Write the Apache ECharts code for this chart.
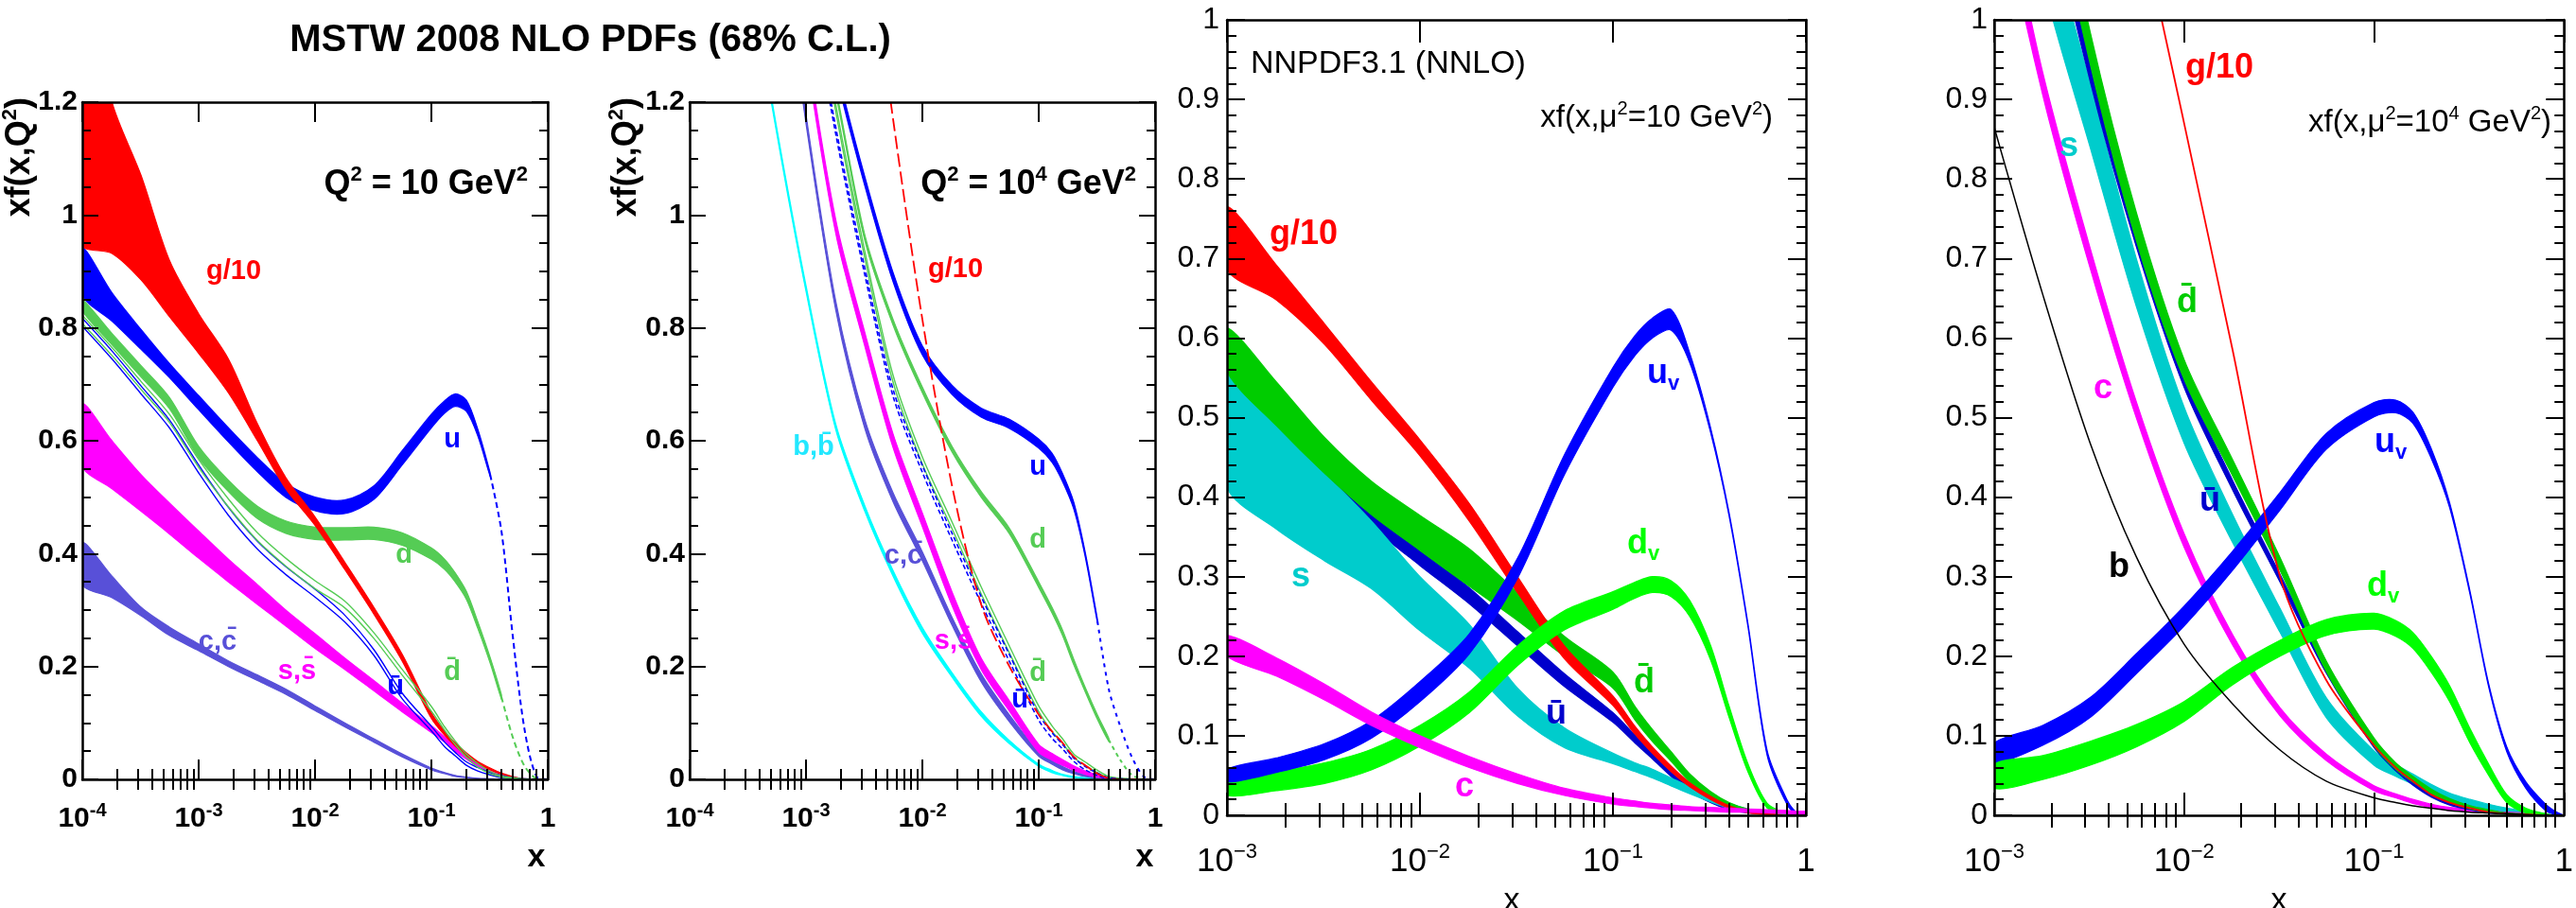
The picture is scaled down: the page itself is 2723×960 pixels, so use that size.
<!DOCTYPE html>
<html><head><meta charset="utf-8">
<script src="https://cdn.jsdelivr.net/npm/echarts@6/dist/echarts.min.js"></script>
<style>html,body{margin:0;padding:0;background:#fff}#c{width:2723px;height:960px}</style>
</head><body><div id="c"></div>
<script>
// ---------------- x sampling grids ----------------
const X_MSTW = [0.0001, 0.00018, 0.00032, 0.00056, 0.001, 0.0018, 0.0032, 0.0056, 0.01, 0.018, 0.032, 0.056, 0.1, 0.13, 0.16, 0.2, 0.25, 0.32, 0.4, 0.5, 0.63, 0.8, 1];
const X_MSTW_G2 = [0.001, 0.0018, 0.0032, 0.0056, 0.01, 0.018, 0.032, 0.056, 0.1, 0.13, 0.16, 0.2, 0.25, 0.32, 0.4, 0.5, 0.63, 0.8, 1];
const X_U_TAIL = [0.32, 0.4, 0.5, 0.63, 0.8, 1];
const X_D_TAIL = [0.4, 0.5, 0.63, 0.8, 1];
const X_NNPDF = [0.001, 0.0018, 0.0032, 0.0056, 0.01, 0.018, 0.032, 0.056, 0.1, 0.13, 0.16, 0.2, 0.25, 0.32, 0.4, 0.5, 0.63, 0.8, 0.9, 1];
const X_TICKS_MSTW = [0.0001, 0.001, 0.01, 0.1, 1];
const X_TICKS_NNPDF = [0.001, 0.01, 0.1, 1];

// ---------------- Panel 1: MSTW 2008 NLO, Q^2 = 10 GeV^2 ----------------
const P1_G_LO = [0.948, 0.932, 0.885, 0.82, 0.755, 0.685, 0.6, 0.515, 0.45, 0.372, 0.293, 0.21, 0.108, 0.078, 0.059, 0.042, 0.028, 0.017, 0.009, 0.004, 0, 0, 0];
const P1_G_HI = [1.45, 1.2, 1.07, 0.92, 0.825, 0.745, 0.63, 0.535, 0.465, 0.385, 0.305, 0.222, 0.118, 0.085, 0.065, 0.047, 0.032, 0.02, 0.011, 0.005, 0.001, 0, 0];
const P1_U_LO = [0.858, 0.812, 0.762, 0.712, 0.655, 0.598, 0.545, 0.5, 0.476, 0.471, 0.496, 0.557, 0.623, 0.649, 0.661, 0.652, 0.609, 0.537];
const P1_U_HI = [0.942, 0.862, 0.797, 0.737, 0.68, 0.623, 0.57, 0.525, 0.5, 0.495, 0.52, 0.582, 0.647, 0.671, 0.683, 0.672, 0.621, 0.543];
const P1_U_TAIL = [0.54, 0.44, 0.255, 0.09, 0.005, 0];
const P1_D_LO = [0.83, 0.77, 0.713, 0.657, 0.57, 0.51, 0.462, 0.436, 0.425, 0.424, 0.425, 0.415, 0.39, 0.372, 0.35, 0.319, 0.268, 0.206, 0.142];
const P1_D_HI = [0.85, 0.79, 0.733, 0.677, 0.59, 0.53, 0.484, 0.458, 0.447, 0.446, 0.447, 0.437, 0.41, 0.39, 0.366, 0.333, 0.28, 0.216, 0.15];
const P1_D_TAIL = [0.146, 0.075, 0.024, 0.001, 0];
const P1_UBAR_LO = [0.803, 0.745, 0.683, 0.623, 0.543, 0.468, 0.408, 0.363, 0.323, 0.279, 0.22, 0.143, 0.086, 0.058, 0.042, 0.025, 0.015, 0.008, 0.003, 0.001, 0, 0, 0];
const P1_UBAR_HI = [0.817, 0.759, 0.697, 0.637, 0.557, 0.482, 0.422, 0.377, 0.337, 0.291, 0.23, 0.153, 0.094, 0.066, 0.048, 0.031, 0.021, 0.012, 0.007, 0.003, 0.001, 0, 0];
const P1_DBAR_LO = [0.808, 0.751, 0.691, 0.633, 0.553, 0.483, 0.423, 0.378, 0.338, 0.304, 0.25, 0.185, 0.121, 0.087, 0.062, 0.039, 0.022, 0.01, 0.004, 0.001, 0, 0, 0];
const P1_DBAR_HI = [0.822, 0.765, 0.705, 0.647, 0.567, 0.497, 0.437, 0.392, 0.352, 0.316, 0.26, 0.195, 0.129, 0.093, 0.068, 0.045, 0.028, 0.014, 0.006, 0.003, 0.001, 0, 0];
const P1_S_LO = [0.555, 0.515, 0.475, 0.435, 0.392, 0.35, 0.31, 0.272, 0.232, 0.195, 0.157, 0.12, 0.083, 0.066, 0.05, 0.036, 0.023, 0.012, 0.005, 0.002, 0, 0, 0];
const P1_S_HI = [0.665, 0.6, 0.54, 0.49, 0.44, 0.39, 0.345, 0.3, 0.258, 0.215, 0.175, 0.135, 0.095, 0.075, 0.058, 0.042, 0.028, 0.015, 0.007, 0.003, 0.001, 0, 0];
const P1_C_LO = [0.345, 0.322, 0.29, 0.255, 0.228, 0.2, 0.175, 0.151, 0.122, 0.093, 0.066, 0.04, 0.017, 0.01, 0.005, 0.003, 0.001, 0, 0, 0, 0, 0, 0];
const P1_C_HI = [0.42, 0.36, 0.305, 0.27, 0.24, 0.21, 0.185, 0.16, 0.13, 0.1, 0.072, 0.045, 0.02, 0.012, 0.007, 0.004, 0.002, 0.001, 0, 0, 0, 0, 0];

// ---------------- Panel 2: MSTW 2008 NLO, Q^2 = 10^4 GeV^2 ----------------
const P2_B_LO = [2.195, 1.795, 1.445, 1.145, 0.865, 0.62, 0.475, 0.36, 0.259, 0.181, 0.112, 0.063, 0.023, 0.012, 0.007, 0.003, 0.001, 0, 0, 0, 0, 0, 0];
const P2_B_HI = [2.205, 1.805, 1.455, 1.155, 0.875, 0.63, 0.485, 0.37, 0.269, 0.189, 0.12, 0.069, 0.027, 0.016, 0.009, 0.005, 0.003, 0.002, 0.001, 0, 0, 0, 0];
const P2_C_LO = [2.892, 2.392, 1.942, 1.542, 1.162, 0.832, 0.622, 0.492, 0.387, 0.273, 0.173, 0.102, 0.041, 0.027, 0.017, 0.01, 0.005, 0.002, 0, 0, 0, 0, 0];
const P2_C_HI = [2.908, 2.408, 1.958, 1.558, 1.178, 0.848, 0.638, 0.508, 0.403, 0.287, 0.187, 0.114, 0.049, 0.033, 0.023, 0.014, 0.009, 0.004, 0.002, 0, 0, 0, 0];
const P2_S_LO = [3.288, 2.688, 2.138, 1.688, 1.288, 0.968, 0.768, 0.588, 0.448, 0.308, 0.195, 0.121, 0.048, 0.034, 0.025, 0.016, 0.009, 0.004, 0.001, 0, 0, 0, 0];
const P2_S_HI = [3.312, 2.712, 2.162, 1.712, 1.312, 0.992, 0.792, 0.612, 0.472, 0.332, 0.215, 0.139, 0.062, 0.046, 0.035, 0.024, 0.015, 0.008, 0.003, 0.001, 0, 0, 0];
const P2_UBAR_LO = [2.994, 2.594, 2.194, 1.794, 1.444, 1.144, 0.894, 0.679, 0.544, 0.424, 0.312, 0.209, 0.105, 0.073, 0.054, 0.032, 0.017, 0.007, 0.001, 0, 0, 0, 0];
const P2_UBAR_HI = [3.006, 2.606, 2.206, 1.806, 1.456, 1.156, 0.906, 0.691, 0.556, 0.436, 0.324, 0.221, 0.115, 0.083, 0.062, 0.038, 0.023, 0.011, 0.003, 0.001, 0, 0, 0];
const P2_DBAR_LO = [3.094, 2.694, 2.294, 1.894, 1.494, 1.184, 0.924, 0.704, 0.559, 0.444, 0.329, 0.224, 0.12, 0.085, 0.064, 0.039, 0.025, 0.012, 0.003, 0, 0, 0, 0];
const P2_DBAR_HI = [3.106, 2.706, 2.306, 1.906, 1.506, 1.196, 0.936, 0.716, 0.571, 0.456, 0.341, 0.236, 0.13, 0.095, 0.072, 0.045, 0.031, 0.016, 0.005, 0.002, 0.001, 0, 0];
const P2_D_LO = [3.195, 2.695, 2.195, 1.795, 1.445, 1.215, 0.955, 0.805, 0.685, 0.58, 0.5, 0.435, 0.34, 0.295, 0.255, 0.203, 0.156, 0.106, 0.067];
const P2_D_HI = [3.205, 2.705, 2.205, 1.805, 1.455, 1.225, 0.965, 0.815, 0.695, 0.59, 0.51, 0.445, 0.35, 0.305, 0.265, 0.213, 0.164, 0.114, 0.073];
const P2_D_TAIL = [0.07, 0.035, 0.008, 0, 0];
const P2_U_LO = [3.492, 2.892, 2.342, 1.892, 1.492, 1.252, 1.052, 0.882, 0.752, 0.682, 0.642, 0.622, 0.587, 0.562, 0.528, 0.479, 0.396, 0.277];
const P2_U_HI = [3.508, 2.908, 2.358, 1.908, 1.508, 1.268, 1.068, 0.898, 0.768, 0.698, 0.658, 0.638, 0.603, 0.578, 0.542, 0.491, 0.404, 0.283];
const P2_U_TAIL = [0.28, 0.16, 0.095, 0.04, 0.005, 0];
const P2_G = [2.5, 2.0, 1.55, 1.17, 0.815, 0.52, 0.31, 0.2, 0.115, 0.085, 0.065, 0.04, 0.025, 0.01, 0.002, 0, 0, 0, 0];

// ---------------- Panel 3: NNPDF3.1 NNLO, mu^2 = 10 GeV^2 ----------------
const P3_G_LO = [0.686, 0.648, 0.592, 0.522, 0.452, 0.37, 0.28, 0.197, 0.138, 0.102, 0.078, 0.055, 0.036, 0.02, 0.009, 0.003, 0.001, 0, 0, 0];
const P3_G_HI = [0.765, 0.692, 0.618, 0.545, 0.472, 0.392, 0.3, 0.213, 0.15, 0.112, 0.086, 0.062, 0.041, 0.024, 0.012, 0.005, 0.002, 0.001, 0, 0];
const P3_DBAR_LO = [0.558, 0.49, 0.43, 0.378, 0.333, 0.288, 0.245, 0.2, 0.16, 0.12, 0.093, 0.068, 0.042, 0.022, 0.01, 0.004, 0.002, 0, 0, 0];
const P3_DBAR_HI = [0.613, 0.545, 0.475, 0.42, 0.377, 0.335, 0.28, 0.225, 0.18, 0.137, 0.108, 0.08, 0.052, 0.03, 0.016, 0.008, 0.005, 0.003, 0.001, 0];
const P3_UBAR_LO = [0.535, 0.475, 0.418, 0.363, 0.314, 0.266, 0.213, 0.162, 0.117, 0.091, 0.071, 0.049, 0.03, 0.016, 0.007, 0.003, 0.001, 0, 0, 0];
const P3_UBAR_HI = [0.555, 0.495, 0.438, 0.383, 0.334, 0.286, 0.231, 0.178, 0.129, 0.101, 0.081, 0.057, 0.036, 0.02, 0.011, 0.005, 0.002, 0, 0, 0];
const P3_S_LO = [0.413, 0.36, 0.32, 0.285, 0.232, 0.185, 0.125, 0.085, 0.065, 0.055, 0.047, 0.037, 0.027, 0.017, 0.009, 0.004, 0.001, 0, 0, 0];
const P3_S_HI = [0.558, 0.49, 0.43, 0.37, 0.3, 0.24, 0.16, 0.11, 0.078, 0.066, 0.058, 0.047, 0.036, 0.025, 0.015, 0.008, 0.004, 0.001, 0, 0];
const P3_C_LO = [0.2, 0.175, 0.145, 0.113, 0.085, 0.06, 0.04, 0.025, 0.014, 0.011, 0.009, 0.007, 0.006, 0.005, 0.004, 0.004, 0.003, 0.002, 0.002, 0.002];
const P3_C_HI = [0.226, 0.198, 0.165, 0.13, 0.1, 0.074, 0.052, 0.034, 0.022, 0.018, 0.015, 0.013, 0.011, 0.01, 0.009, 0.008, 0.007, 0.006, 0.005, 0.005];
const P3_UV_LO = [0.042, 0.054, 0.07, 0.097, 0.143, 0.203, 0.298, 0.428, 0.538, 0.578, 0.6, 0.61, 0.569, 0.482, 0.376, 0.238, 0.075, 0.013, 0.001, 0];
const P3_UV_HI = [0.058, 0.072, 0.09, 0.119, 0.168, 0.228, 0.323, 0.453, 0.563, 0.603, 0.625, 0.636, 0.581, 0.488, 0.38, 0.242, 0.081, 0.019, 0.003, 0];
const P3_DV_LO = [0.025, 0.031, 0.04, 0.057, 0.087, 0.129, 0.188, 0.233, 0.259, 0.273, 0.28, 0.275, 0.25, 0.196, 0.123, 0.055, 0.009, 0, 0, 0];
const P3_DV_HI = [0.047, 0.055, 0.066, 0.083, 0.113, 0.155, 0.213, 0.257, 0.281, 0.293, 0.3, 0.295, 0.27, 0.214, 0.137, 0.065, 0.015, 0.002, 0, 0];

// ---------------- Panel 4: NNPDF3.1 NNLO, mu^2 = 10^4 GeV^2 ----------------
const P4_G = [2.2, 1.8, 1.45, 1.15, 0.87, 0.585, 0.3, 0.17, 0.088, 0.06, 0.043, 0.026, 0.016, 0.009, 0.004, 0.002, 0.001, 0, 0, 0];
const P4_B = [0.865, 0.655, 0.468, 0.325, 0.215, 0.14, 0.082, 0.043, 0.022, 0.016, 0.012, 0.009, 0.006, 0.004, 0.003, 0.002, 0.001, 0, 0, 0];
const P4_DBAR_LO = [1.57, 1.225, 0.945, 0.723, 0.548, 0.427, 0.308, 0.181, 0.087, 0.058, 0.042, 0.027, 0.016, 0.008, 0.004, 0.001, 0, 0, 0, 0];
const P4_DBAR_HI = [1.63, 1.275, 0.985, 0.758, 0.573, 0.447, 0.324, 0.194, 0.097, 0.066, 0.049, 0.033, 0.021, 0.012, 0.007, 0.003, 0.002, 0, 0, 0];
const P4_UBAR_LO = [1.582, 1.185, 0.923, 0.715, 0.538, 0.409, 0.293, 0.179, 0.085, 0.056, 0.038, 0.023, 0.013, 0.007, 0.003, 0.002, 0, 0, 0, 0];
const P4_UBAR_HI = [1.618, 1.215, 0.947, 0.735, 0.553, 0.421, 0.303, 0.187, 0.091, 0.061, 0.042, 0.027, 0.016, 0.009, 0.005, 0.003, 0, 0, 0, 0];
const P4_S_LO = [1.36, 1.05, 0.84, 0.64, 0.468, 0.343, 0.23, 0.123, 0.063, 0.049, 0.039, 0.028, 0.019, 0.012, 0.007, 0.004, 0.002, 0, 0, 0];
const P4_S_HI = [1.48, 1.15, 0.92, 0.7, 0.513, 0.378, 0.26, 0.148, 0.081, 0.064, 0.052, 0.039, 0.028, 0.02, 0.014, 0.009, 0.005, 0.002, 0, 0];
const P4_C_LO = [1.185, 0.906, 0.688, 0.5, 0.337, 0.214, 0.125, 0.069, 0.031, 0.022, 0.015, 0.01, 0.006, 0.005, 0.003, 0.002, 0.001, 0, 0, 0];
const P4_C_HI = [1.215, 0.934, 0.713, 0.52, 0.354, 0.227, 0.135, 0.077, 0.037, 0.027, 0.02, 0.014, 0.01, 0.008, 0.006, 0.004, 0.003, 0.001, 0, 0];
const P4_UV_LO = [0.066, 0.088, 0.123, 0.178, 0.238, 0.308, 0.384, 0.46, 0.501, 0.506, 0.493, 0.449, 0.387, 0.278, 0.163, 0.08, 0.034, 0.006, 0.001, 0];
const P4_UV_HI = [0.091, 0.113, 0.148, 0.203, 0.263, 0.332, 0.406, 0.48, 0.519, 0.522, 0.507, 0.461, 0.393, 0.282, 0.167, 0.086, 0.042, 0.014, 0.005, 0];
const P4_DV_LO = [0.034, 0.045, 0.063, 0.086, 0.118, 0.164, 0.2, 0.226, 0.234, 0.225, 0.21, 0.18, 0.143, 0.091, 0.051, 0.016, 0.003, 0, 0, 0];
const P4_DV_HI = [0.064, 0.075, 0.093, 0.114, 0.143, 0.186, 0.22, 0.246, 0.254, 0.245, 0.23, 0.2, 0.163, 0.109, 0.065, 0.026, 0.009, 0.002, 0, 0];

// ---------------- styling ----------------
const FF = '"Liberation Sans", Arial, Helvetica, sans-serif';
const COL = {
  red: '#ff0000', blue: '#0000ff', mgreen: '#55cc55', magenta: '#ff00ff', slate: '#5850d8', cyan: '#00ffff',
  nCyan: '#00cccc', dGreen: '#00cc00', dBlue: '#0000cc', bGreen: '#00ff00', black: '#000000'
};

const PANELS = [
  {grid: {left: 87, top: 108, width: 492, height: 716}, xmin: 0.0001, ymax: 1.2, yint: 0.2, ysplit: 4, mstw: true, ylabMargin: 5, xlabMargin: 23},
  {grid: {left: 729, top: 108, width: 492, height: 716}, xmin: 0.0001, ymax: 1.2, yint: 0.2, ysplit: 4, mstw: true, ylabMargin: 5, xlabMargin: 23},
  {grid: {left: 1297, top: 21, width: 612, height: 841}, xmin: 0.001, ymax: 1, yint: 0.1, ysplit: 5, mstw: false, ylabMargin: 8, xlabMargin: 28},
  {grid: {left: 2108, top: 21, width: 609, height: 841}, xmin: 0.001, ymax: 1, yint: 0.1, ysplit: 5, mstw: false, ylabMargin: 7, xlabMargin: 28}
];

function minorTicks(xmin) {
  const out = [];
  for (let e = Math.round(Math.log10(xmin)); e < 0; e++) {
    for (let k = 2; k <= 9; k++) out.push(k * Math.pow(10, e));
  }
  return out;
}

const xAxes = [], yAxes = [];
PANELS.forEach((P, p) => {
  const majors = P.mstw ? X_TICKS_MSTW : X_TICKS_NNPDF;
  const minors = minorTicks(P.xmin);
  const fw = P.mstw ? 'bold' : 'normal';
  const frame = {show: true, onZero: false, lineStyle: {color: '#000', width: 2.5}};
  const tickLS = {color: '#000', width: 2};
  const majLen = P.mstw ? 21 : 24, minLen = P.mstw ? 11 : 13;
  const base = {type: 'log', logBase: 10, gridIndex: p, min: P.xmin, max: 1, splitLine: {show: false}, z: 10, silent: true};
  const xrich = P.mstw
    ? {b: {fontSize: 30, fontWeight: 'bold', fontFamily: FF, color: '#000', lineHeight: 38},
       s: {fontSize: 20, fontWeight: 'bold', fontFamily: FF, color: '#000', verticalAlign: 'top', lineHeight: 21}}
    : {b: {fontSize: 35, fontWeight: 'normal', fontFamily: FF, color: '#000', lineHeight: 42},
       s: {fontSize: 22, fontWeight: 'normal', fontFamily: FF, color: '#000', verticalAlign: 'top', lineHeight: 22}};
  const fmt = v => {
    const e = Math.round(Math.log10(v));
    if (e === 0) return '{b|1}';
    return '{b|10}{s|' + (P.mstw ? '-' : '\u2212') + (-e) + '}';
  };
  xAxes.push(
    Object.assign({}, base, {position: 'bottom', axisLine: frame,
      axisTick: {show: true, inside: true, length: majLen, lineStyle: tickLS, customValues: majors},
      axisLabel: {show: true, customValues: majors, margin: P.xlabMargin, formatter: fmt, rich: xrich}}),
    Object.assign({}, base, {position: 'bottom', axisLine: {show: false},
      axisTick: {show: true, inside: true, length: minLen, lineStyle: tickLS, customValues: minors},
      axisLabel: {show: false}}),
    Object.assign({}, base, {position: 'top', axisLine: frame,
      axisTick: {show: true, inside: true, length: majLen, lineStyle: tickLS, customValues: majors},
      axisLabel: {show: false}}),
    Object.assign({}, base, {position: 'top', axisLine: {show: false},
      axisTick: {show: true, inside: true, length: minLen, lineStyle: tickLS, customValues: minors},
      axisLabel: {show: false}})
  );
  const ybase = {type: 'value', gridIndex: p, min: 0, max: P.ymax, interval: P.yint, z: 10, silent: true,
    splitLine: {show: false}, minorSplitLine: {show: false}, axisLine: frame,
    axisTick: {show: true, inside: true, length: P.mstw ? 17 : 19, lineStyle: tickLS},
    minorTick: {show: true, splitNumber: P.ysplit, length: P.mstw ? 9 : 10, lineStyle: tickLS}};
  yAxes.push(
    Object.assign({}, ybase, {position: 'left',
      axisLabel: {show: true, margin: P.ylabMargin, showMinLabel: true, showMaxLabel: true,
        fontSize: P.mstw ? 30 : 32, fontWeight: fw, fontFamily: FF, color: '#000'}}),
    Object.assign({}, ybase, {position: 'right', axisLabel: {show: false}})
  );
});

// ---------------- series builders ----------------
function band(p, xs, lo, hi, color) {
  return {
    type: 'custom', xAxisIndex: 4 * p, yAxisIndex: 2 * p, clip: true, silent: true, z: 2,
    data: lo.map((v, i) => [xs[i], lo[i], hi[i]]),
    encode: {x: 0, y: [1, 2]},
    renderItem: function (params, api) {
      if (params.dataIndexInside !== 0) return;
      const lower = [], upper = [];
      for (let i = 0; i < lo.length; i++) {
        const x = api.value(0, i);
        lower.push(api.coord([x, api.value(1, i)]));
        upper.push(api.coord([x, api.value(2, i)]));
      }
      const pts = lower.concat(upper.reverse());
      return {type: 'polygon', shape: {points: pts, smooth: 0.3},
        style: {fill: color, stroke: color, lineWidth: 1.2}};
    }
  };
}
function curve(p, xs, ys, color, width, dash) {
  return {
    type: 'custom', xAxisIndex: 4 * p, yAxisIndex: 2 * p, clip: true, silent: true, z: 3,
    data: ys.map((v, i) => [xs[i], ys[i]]),
    encode: {x: 0, y: 1},
    renderItem: function (params, api) {
      if (params.dataIndexInside !== 0) return;
      const pts = [];
      for (let i = 0; i < ys.length; i++) pts.push(api.coord([api.value(0, i), api.value(1, i)]));
      return {type: 'polyline', shape: {points: pts, smooth: 0.3},
        style: {stroke: color, lineWidth: width, fill: null, lineDash: dash || null}};
    }
  };
}

const series = [
  // panel 1
  band(0, X_MSTW, P1_C_LO, P1_C_HI, COL.slate),
  band(0, X_MSTW, P1_S_LO, P1_S_HI, COL.magenta),
  curve(0, X_MSTW, P1_UBAR_LO, COL.blue, 1.4),
  curve(0, X_MSTW, P1_UBAR_HI, COL.blue, 1.4),
  curve(0, X_MSTW, P1_DBAR_LO, COL.mgreen, 1.4),
  curve(0, X_MSTW, P1_DBAR_HI, COL.mgreen, 1.4),
  band(0, X_MSTW, P1_D_LO, P1_D_HI, COL.mgreen),
  curve(0, X_D_TAIL, P1_D_TAIL, COL.mgreen, 2, [6, 4]),
  band(0, X_MSTW, P1_U_LO, P1_U_HI, COL.blue),
  curve(0, X_U_TAIL, P1_U_TAIL, COL.blue, 2, [6, 4]),
  band(0, X_MSTW, P1_G_LO, P1_G_HI, COL.red),
  // panel 2
  band(1, X_MSTW, P2_B_LO, P2_B_HI, COL.cyan),
  band(1, X_MSTW, P2_C_LO, P2_C_HI, COL.slate),
  band(1, X_MSTW, P2_S_LO, P2_S_HI, COL.magenta),
  curve(1, X_MSTW, P2_DBAR_LO, COL.mgreen, 1.4),
  curve(1, X_MSTW, P2_DBAR_HI, COL.mgreen, 1.4),
  curve(1, X_MSTW, P2_UBAR_LO, COL.blue, 1.6, [5, 3]),
  curve(1, X_MSTW, P2_UBAR_HI, COL.blue, 1.6, [5, 3]),
  band(1, X_MSTW, P2_D_LO, P2_D_HI, COL.mgreen),
  curve(1, X_D_TAIL, P2_D_TAIL, COL.mgreen, 2, [4, 4]),
  band(1, X_MSTW, P2_U_LO, P2_U_HI, COL.blue),
  curve(1, X_U_TAIL, P2_U_TAIL, COL.blue, 2, [4, 5]),
  curve(1, X_MSTW_G2, P2_G, COL.red, 1.8, [14, 5]),
  // panel 3
  band(2, X_NNPDF, P3_UBAR_LO, P3_UBAR_HI, COL.dBlue),
  band(2, X_NNPDF, P3_S_LO, P3_S_HI, COL.nCyan),
  band(2, X_NNPDF, P3_DBAR_LO, P3_DBAR_HI, COL.dGreen),
  band(2, X_NNPDF, P3_G_LO, P3_G_HI, COL.red),
  band(2, X_NNPDF, P3_DV_LO, P3_DV_HI, COL.bGreen),
  band(2, X_NNPDF, P3_UV_LO, P3_UV_HI, COL.blue),
  band(2, X_NNPDF, P3_C_LO, P3_C_HI, COL.magenta),
  // panel 4
  band(3, X_NNPDF, P4_S_LO, P4_S_HI, COL.nCyan),
  band(3, X_NNPDF, P4_C_LO, P4_C_HI, COL.magenta),
  band(3, X_NNPDF, P4_UBAR_LO, P4_UBAR_HI, COL.dBlue),
  band(3, X_NNPDF, P4_DBAR_LO, P4_DBAR_HI, COL.dGreen),
  curve(3, X_NNPDF, P4_G, COL.red, 1.8),
  band(3, X_NNPDF, P4_UV_LO, P4_UV_HI, COL.blue),
  band(3, X_NNPDF, P4_DV_LO, P4_DV_HI, COL.bGreen),
  curve(3, X_NNPDF, P4_B, COL.black, 1.5)
];

// ---------------- text ----------------
function txt(x, y, text, size, bold, color, opt) {
  opt = opt || {};
  const fw = bold ? 'bold' : 'normal';
  const small = Math.round(size * 0.62);
  return {
    type: 'text', x: x, y: y, rotation: opt.rot || 0, z: 50, silent: true,
    style: {
      text: text, fill: color, fontSize: size, fontWeight: fw, fontFamily: FF,
      align: opt.align || 'center', verticalAlign: 'middle',
      textAlign: opt.align || 'center', textVerticalAlign: 'middle',
      rich: {
        n: {fontSize: size, fontWeight: fw, fontFamily: FF, fill: color, lineHeight: Math.round(size * 1.2)},
        sup: {fontSize: small, fontWeight: fw, fontFamily: FF, fill: color, verticalAlign: 'top', lineHeight: small},
        sub: {fontSize: small, fontWeight: fw, fontFamily: FF, fill: color, verticalAlign: 'bottom', lineHeight: small}
      }
    }
  };
}
const OV = '\u0304';
const graphics = [
  txt(624, 43, '{n|MSTW 2008 NLO PDFs (68% C.L.)}', 40, true, '#000'),
  txt(21, 103, '{n|xf(x,Q}{sup|2}{n|)}', 36, true, '#000', {rot: Math.PI / 2, align: 'right'}),
  txt(662, 103, '{n|xf(x,Q}{sup|2}{n|)}', 36, true, '#000', {rot: Math.PI / 2, align: 'right'}),
  txt(558, 195, '{n|Q}{sup|2}{n| = 10 GeV}{sup|2}', 36, true, '#000', {align: 'right'}),
  txt(1201, 195, '{n|Q}{sup|2}{n| = 10}{sup|4}{n| GeV}{sup|2}', 36, true, '#000', {align: 'right'}),
  txt(567, 907, '{n|x}', 34, true, '#000'),
  txt(1210, 907, '{n|x}', 34, true, '#000'),
  // panel 1 labels
  txt(247, 287, '{n|g/10}', 29, true, COL.red),
  txt(478, 465, '{n|u}', 29, true, COL.blue),
  txt(427, 587, '{n|d}', 29, true, COL.mgreen),
  txt(478, 711, '{n|d' + OV + '}', 29, true, COL.mgreen),
  txt(418, 726, '{n|u' + OV + '}', 29, true, COL.blue),
  txt(314, 710, '{n|s,s' + OV + '}', 29, true, COL.magenta),
  txt(230, 679, '{n|c,c' + OV + '}', 29, true, COL.slate),
  // panel 2 labels
  txt(1010, 285, '{n|g/10}', 29, true, COL.red),
  txt(1097, 494, '{n|u}', 29, true, COL.blue),
  txt(1097, 571, '{n|d}', 29, true, COL.mgreen),
  txt(1097, 712, '{n|d' + OV + '}', 29, true, COL.mgreen),
  txt(1078, 740, '{n|u' + OV + '}', 29, true, COL.blue),
  txt(1008, 678, '{n|s,s' + OV + '}', 29, true, COL.magenta),
  txt(955, 588, '{n|c,c' + OV + '}', 29, true, COL.slate),
  txt(860, 473, '{n|b,b' + OV + '}', 29, true, '#22e8ff'),
  // panel 3
  txt(1322, 68, '{n|NNPDF3.1 (NNLO)}', 34, false, '#000', {align: 'left'}),
  txt(1874, 125, '{n|xf(x,\u03bc}{sup|2}{n|=10 GeV}{sup|2}{n|)}', 33, false, '#000', {align: 'right'}),
  txt(1598, 953, '{n|x}', 34, false, '#000'),
  txt(1378, 248, '{n|g/10}', 36, true, COL.red),
  txt(1758, 395, '{n|u}{sub|v}', 36, true, COL.blue),
  txt(1737, 575, '{n|d}{sub|v}', 36, true, COL.bGreen),
  txt(1738, 722, '{n|d' + OV + '}', 36, true, COL.dGreen),
  txt(1645, 755, '{n|u' + OV + '}', 36, true, COL.dBlue),
  txt(1375, 610, '{n|s}', 36, true, COL.nCyan),
  txt(1548, 832, '{n|c}', 36, true, COL.magenta),
  // panel 4
  txt(2697, 130, '{n|xf(x,\u03bc}{sup|2}{n|=10}{sup|4}{n| GeV}{sup|2}{n|)}', 33, false, '#000', {align: 'right'}),
  txt(2409, 953, '{n|x}', 34, false, '#000'),
  txt(2346, 72, '{n|g/10}', 36, true, COL.red),
  txt(2187, 155, '{n|s}', 36, true, COL.nCyan),
  txt(2312, 320, '{n|d' + OV + '}', 36, true, COL.dGreen),
  txt(2223, 411, '{n|c}', 36, true, COL.magenta),
  txt(2527, 468, '{n|u}{sub|v}', 36, true, COL.blue),
  txt(2336, 530, '{n|u' + OV + '}', 36, true, COL.dBlue),
  txt(2240, 600, '{n|b}', 36, true, COL.black),
  txt(2519, 620, '{n|d}{sub|v}', 36, true, COL.bGreen)
];

const chart = echarts.init(document.getElementById('c'), null, {renderer: 'canvas', width: 2723, height: 960});
chart.setOption({
  animation: false,
  backgroundColor: '#ffffff',
  grid: PANELS.map(P => Object.assign({containLabel: false}, P.grid)),
  xAxis: xAxes,
  yAxis: yAxes,
  series: series,
  graphic: {elements: graphics}
});
</script>
</body></html>
